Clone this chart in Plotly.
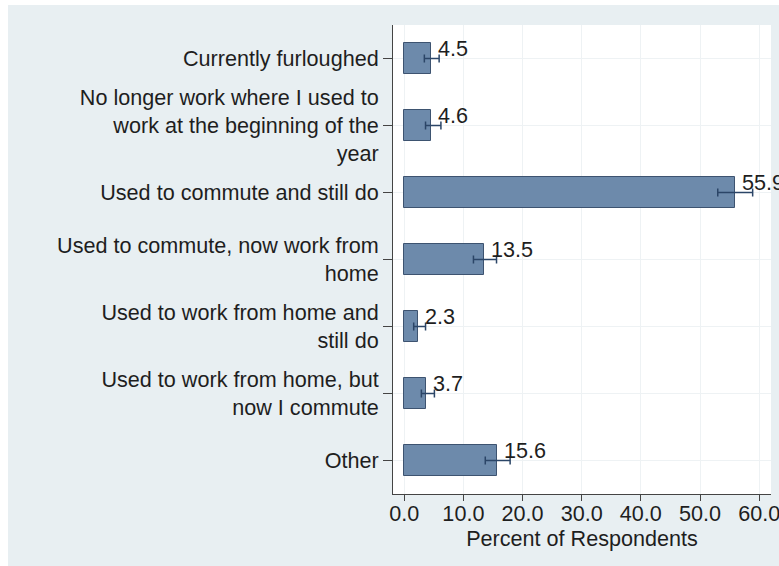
import plotly.graph_objects as go

categories = [
    "Currently furloughed",
    "No longer work where I used to<br>work at the beginning of the<br>year",
    "Used to commute and still do",
    "Used to commute, now work from<br>home",
    "Used to work from home and<br>still do",
    "Used to work from home, but<br>now I commute",
    "Other",
]
values = [4.5, 4.6, 55.9, 13.5, 2.3, 3.7, 15.6]
ci_lower = [3.4, 3.6, 53.0, 11.7, 1.6, 2.9, 13.7]
ci_upper = [5.9, 6.2, 58.9, 15.6, 3.6, 5.1, 17.9]
x_ticks = [0, 10, 20, 30, 40, 50, 60]
x_title = "Percent of Respondents"

W, H = 779, 566
ML, MR, MT, MB = 393, 8, 25, 72
PW = W - ML - MR
PH = H - MT - MB

FONT = "Liberation Sans, Arial, Helvetica, sans-serif"
FS = 21.6
TXT = "#1e1e1e"
BG = "#e8eff2"

pos = list(range(len(categories)))
err_plus = [u - v for u, v in zip(ci_upper, values)]
err_minus = [v - l for v, l in zip(values, ci_lower)]

fig = go.Figure()
fig.add_trace(go.Bar(
    y=pos, x=values, orientation="h", width=0.47,
    marker=dict(color="#6d8aab", line=dict(color="#3d5370", width=1)),
    error_x=dict(type="data", symmetric=False, array=err_plus, arrayminus=err_minus,
                 color="#2b4567", thickness=1.5, width=4),
    hoverinfo="skip", showlegend=False,
))

for p, v in zip(pos, values):
    fig.add_annotation(x=v, y=p, xref="x", yref="y", text=f"{v:.1f}", showarrow=False,
                       xanchor="left", yanchor="middle", xshift=5, yshift=10,
                       font=dict(family=FONT, size=FS, color=TXT))

def px_to_paper_x(px):
    return (px - ML) / PW

def px_to_paper_y(py):
    return (H - MB - py) / PH

# white strips (page outside the graph region)
fig.add_shape(type="rect", xref="paper", yref="paper",
              x0=px_to_paper_x(0), x1=px_to_paper_x(W), y0=px_to_paper_y(5), y1=px_to_paper_y(0),
              fillcolor="white", line=dict(width=0), layer="above")
fig.add_shape(type="rect", xref="paper", yref="paper",
              x0=px_to_paper_x(0), x1=px_to_paper_x(8), y0=px_to_paper_y(H), y1=px_to_paper_y(0),
              fillcolor="white", line=dict(width=0), layer="above")

fig.update_layout(
    width=W, height=H,
    margin=dict(l=ML, r=MR, t=MT, b=MB, pad=0, autoexpand=False),
    paper_bgcolor=BG, plot_bgcolor="white",
    font=dict(family=FONT, size=FS, color=TXT),
    bargap=0,
    xaxis=dict(
        range=[-1.9, 62.0], tickvals=x_ticks, ticktext=[f"{t:.1f}" for t in x_ticks],
        automargin=False,
        showgrid=True, gridcolor="#eef2f4", gridwidth=1, zeroline=False,
        showline=True, linecolor="#444444", linewidth=1,
        ticks="outside", ticklen=6, tickcolor="#444444",
        ticklabeloverflow="allow", ticklabelstandoff=-6,
        tickfont=dict(family=FONT, size=FS, color=TXT),
        title=dict(text=x_title, font=dict(family=FONT, size=FS, color=TXT), standoff=0),
    ),
    yaxis=dict(
        range=[6.5, -0.5], tickvals=pos, ticktext=categories,
        automargin=False,
        showgrid=True, gridcolor="#eef2f4", gridwidth=1, zeroline=False,
        showline=True, linecolor="#444444", linewidth=1,
        ticks="outside", ticklen=9, tickcolor="#444444",
        tickfont=dict(family=FONT, size=FS, color=TXT),
    ),
)

fig.write_html("out.html")
